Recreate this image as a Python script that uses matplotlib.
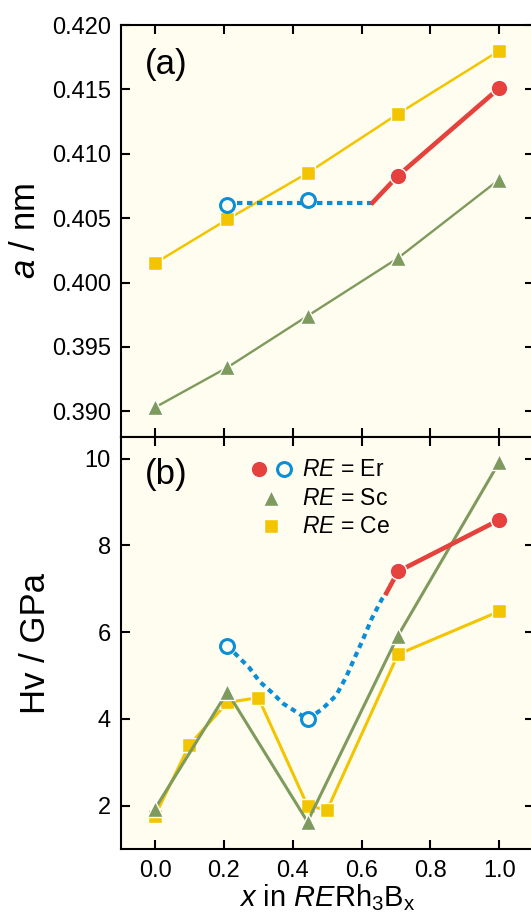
import matplotlib
matplotlib.use("Agg")
import matplotlib.pyplot as plt

plt.rcParams['font.family'] = ['Liberation Sans', 'DejaVu Sans']
plt.rcParams['mathtext.fontset'] = 'custom'
plt.rcParams['mathtext.rm'] = 'Liberation Sans'
plt.rcParams['mathtext.it'] = 'Liberation Sans:italic'

# colours
bg = '#FFFDEF'
yel = '#F2C500'
grn = '#7E9A5C'
red = '#E5423D'
blu = '#0C8ED6'

# (a) lattice constant a / nm
x5 = [0.0, 0.21, 0.443, 0.706, 1.0]
a_ce = [0.4015, 0.4049, 0.4085, 0.4131, 0.4180]
a_sc = [0.3903, 0.3934, 0.3974, 0.4019, 0.4080]
x_er = [0.706, 1.0]
a_er = [0.4083, 0.4151]
x_er_open = [0.21, 0.443]
a_er_open = [0.4060, 0.4064]
# guide lines for Er
a_guide_x = [0.21, 0.632]
a_guide_y = [0.4062, 0.4062]
a_red_x = [0.632, 0.706, 1.0]
a_red_y = [0.4062, 0.4083, 0.4151]

# (b) Vickers hardness Hv / GPa
hv_sc = [1.93, 4.62, 1.63, 5.92, 9.92]
x_ce_b = [0.0, 0.1, 0.21, 0.3, 0.443, 0.5, 0.706, 1.0]
hv_ce = [1.77, 3.40, 4.38, 4.49, 2.0, 1.90, 5.49, 6.48]
hv_er = [7.40, 8.59]
hv_er_open = [5.69, 3.99]
hv_guide_x = [0.21, 0.25, 0.274, 0.304, 0.338, 0.373, 0.403, 0.443, 0.486,
              0.526, 0.556, 0.580, 0.605, 0.630, 0.659, 0.672]
hv_guide_y = [5.69, 5.37, 5.18, 4.86, 4.62, 4.35, 4.20, 3.99, 4.23,
              4.54, 4.98, 5.41, 5.85, 6.32, 6.76, 6.90]
hv_red_x = [0.672, 0.706, 1.0]
hv_red_y = [6.90, 7.40, 8.59]

xticks = [0.0, 0.2, 0.4, 0.6, 0.8, 1.0]
yticks_a = [0.390, 0.395, 0.400, 0.405, 0.410, 0.415, 0.420]
yticks_b = [2, 4, 6, 8, 10]

fig = plt.figure(figsize=(5.31, 9.16), dpi=100)
gs = fig.add_gridspec(2, 1, left=0.2271, right=1.005, top=0.9727, bottom=0.0731, hspace=0)
ax1 = fig.add_subplot(gs[0])
ax2 = fig.add_subplot(gs[1], sharex=ax1)

dots = (0, (1.3, 1.1))
for ax in (ax1, ax2):
    ax.set_facecolor(bg)
    for s in ax.spines.values():
        s.set_linewidth(1.5)
    ax.tick_params(direction='in', length=6.5, width=1.5, top=True, right=True,
                   labelsize=17, pad=7)
    ax.tick_params(axis='x', pad=8)

# panel (a)
ax1.plot(x5, a_ce, color=yel, lw=1.8, marker='s', ms=10, mec='white', mew=1, zorder=3)
ax1.plot(x5, a_sc, color=grn, lw=1.7, marker='^', ms=11, mec='white', mew=1, zorder=3)
ax1.plot(a_guide_x, a_guide_y, color=blu, lw=3, ls=dots, zorder=4)
ax1.plot(a_red_x, a_red_y, color=red, lw=3.3, zorder=4)
ax1.plot(x_er, a_er, ls='none', marker='o', ms=12, color=red, mec='white', mew=1, zorder=5)
ax1.plot(x_er_open, a_er_open, ls='none', marker='o', ms=10, mfc=bg, mec=blu, mew=2.2, zorder=5)
ax1.set_ylim(0.388, 0.420)
ax1.set_yticks(yticks_a)
ax1.set_yticklabels(['%.3f' % v for v in yticks_a])
ax1.tick_params(axis='x', labelbottom=False)
ax1.set_ylabel('$a$ / nm', fontsize=25)
ax1.yaxis.set_label_coords(-0.19, 0.5)
ax1.text(0.058, 0.905, '(a)', transform=ax1.transAxes, fontsize=25, va='center', ha='left')

# panel (b)
ax2.plot(x_ce_b, hv_ce, color=yel, lw=2.2, marker='s', ms=10, mec='white', mew=1, zorder=3)
ax2.plot(x5, hv_sc, color=grn, lw=2.2, marker='^', ms=11, mec='white', mew=1, zorder=3)
ax2.plot(hv_guide_x, hv_guide_y, color=blu, lw=3, ls=dots, zorder=4)
ax2.plot(hv_red_x, hv_red_y, color=red, lw=3.3, zorder=4)
ax2.plot(x_er, hv_er, ls='none', marker='o', ms=12, color=red, mec='white', mew=1, zorder=5)
ax2.plot(x_er_open, hv_er_open, ls='none', marker='o', ms=10, mfc=bg, mec=blu, mew=2.2, zorder=5)
ax2.set_ylim(1.0, 10.5)
ax2.set_yticks(yticks_b)
ax2.set_xlim(-0.1, 1.1)
ax2.set_xticks(xticks)
ax2.set_xticklabels(['%.1f' % v for v in xticks])
ax2.set_ylabel('Hv / GPa', fontsize=25)
ax2.yaxis.set_label_coords(-0.166, 0.5)
ax2.set_xlabel(r'$x$ in $RE$Rh$_\mathregular{3}$B$_\mathregular{x}$', fontsize=21, labelpad=0)
ax2.text(0.058, 0.91, '(b)', transform=ax2.transAxes, fontsize=25, va='center', ha='left')

# legend drawn by hand
tr = ax2.transAxes
ax2.plot([0.335], [0.922], transform=tr, marker='o', ms=12, color=red, mec='white', mew=1, ls='none')
ax2.plot([0.395], [0.922], transform=tr, marker='o', ms=10, mfc=bg, mec=blu, mew=2.2, ls='none')
ax2.plot([0.365], [0.852], transform=tr, marker='^', ms=11, color=grn, mec='white', mew=1, ls='none')
ax2.plot([0.365], [0.784], transform=tr, marker='s', ms=10, color=yel, mec='white', mew=1, ls='none')
for yy, name in zip([0.922, 0.852, 0.784], ['Er', 'Sc', 'Ce']):
    ax2.text(0.44, yy, '$RE$ = ' + name, transform=tr, fontsize=16.5, va='center', ha='left')

fig.savefig('out.png', dpi=100, facecolor='white')
